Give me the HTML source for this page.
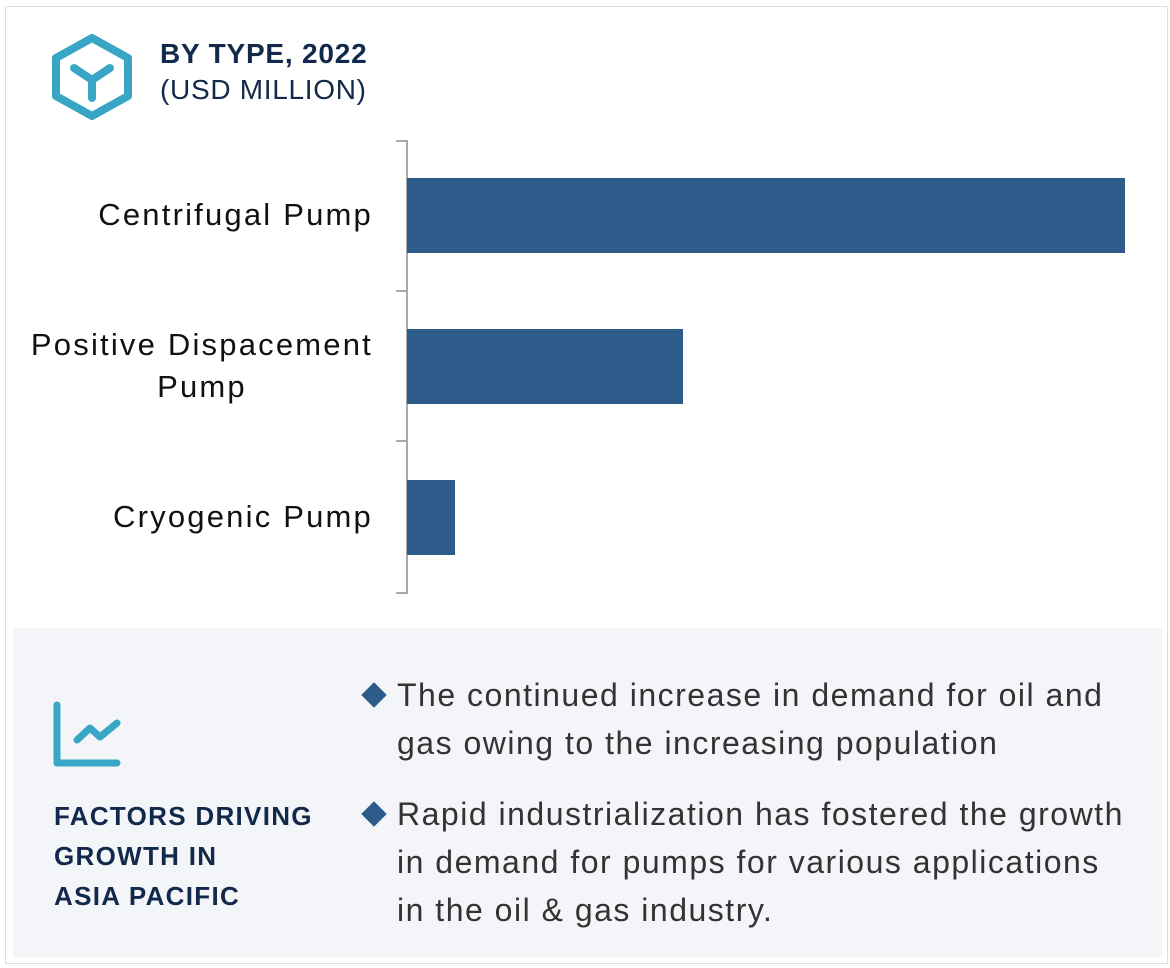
<!DOCTYPE html>
<html><head><style>
body{margin:0;width:1170px;height:968px;background:#fff;font-family:"Liberation Sans",sans-serif;position:relative;overflow:hidden}
.a{position:absolute}
.lab{position:absolute;right:797px;text-align:center;font-size:31px;color:#111;line-height:42px;letter-spacing:2.2px}
.bar{position:absolute;left:407px;height:75px;background:#2d5c8a}
.tk{position:absolute;left:396px;width:11px;height:2px;background:#aaa}
.bl{position:absolute;left:397px;font-size:32px;color:#333;line-height:48px;width:770px;letter-spacing:1.5px;white-space:nowrap}
.dm{position:absolute;left:365px;width:18px;height:18px;background:#2d5c8a;transform:rotate(45deg)}
</style></head><body>
<div class="a" style="left:5px;top:6px;width:1161px;height:956px;border:1px solid #ddd"></div>
<svg class="a" style="left:50px;top:34px" width="84" height="86" viewBox="0 0 84 86">
<polygon points="42,4 78,24 78,62 42,82 6,62 6,24" fill="none" stroke="#38a6c4" stroke-width="8" stroke-linejoin="round"/>
<path d="M24,34 L42,46 L60,34 M42,46 L42,64" fill="none" stroke="#38a6c4" stroke-width="8" stroke-linecap="round"/>
</svg>
<div class="a" style="left:160px;top:38px;font-size:28px;font-weight:bold;color:#13294b;letter-spacing:0.8px">BY TYPE, 2022</div>
<div class="a" style="left:160px;top:74px;font-size:28px;color:#13294b;letter-spacing:0.7px">(USD MILLION)</div>
<div class="a" style="left:406px;top:140px;width:2px;height:454px;background:#aaa"></div>
<div class="tk" style="top:140px"></div><div class="tk" style="top:290px"></div><div class="tk" style="top:440px"></div><div class="tk" style="top:592px"></div>
<div class="bar" style="top:178px;width:718px"></div>
<div class="bar" style="top:329px;width:276px"></div>
<div class="bar" style="top:480px;width:48px"></div>
<div class="lab" style="top:194px">Centrifugal Pump</div>
<div class="lab" style="top:324px">Positive Dispacement<br>Pump</div>
<div class="lab" style="top:496px">Cryogenic Pump</div>
<div class="a" style="left:13px;top:628px;width:1149px;height:329px;background:#f3f5f9"></div>
<svg class="a" style="left:50px;top:698px" width="76" height="72" viewBox="0 0 76 72">
<path d="M7,7 L7,65 L67,65" fill="none" stroke="#38a6c4" stroke-width="7" stroke-linecap="round" stroke-linejoin="round"/>
<path d="M27,42 L40,30 L50,39 L67,25" fill="none" stroke="#38a6c4" stroke-width="7" stroke-linecap="round" stroke-linejoin="round"/>
</svg>
<div class="a" style="left:54px;top:796px;font-size:26px;font-weight:bold;color:#13294b;line-height:40px;letter-spacing:1.3px">FACTORS DRIVING<br>GROWTH IN<br>ASIA PACIFIC</div>
<div class="dm" style="top:686px"></div>
<div class="bl" style="top:671px">The continued increase in demand for oil and<br>gas owing to the increasing population</div>
<div class="dm" style="top:805px"></div>
<div class="bl" style="top:790px">Rapid industrialization has fostered the growth<br>in demand for pumps for various applications<br>in the oil &amp; gas industry.</div>
</body></html>
